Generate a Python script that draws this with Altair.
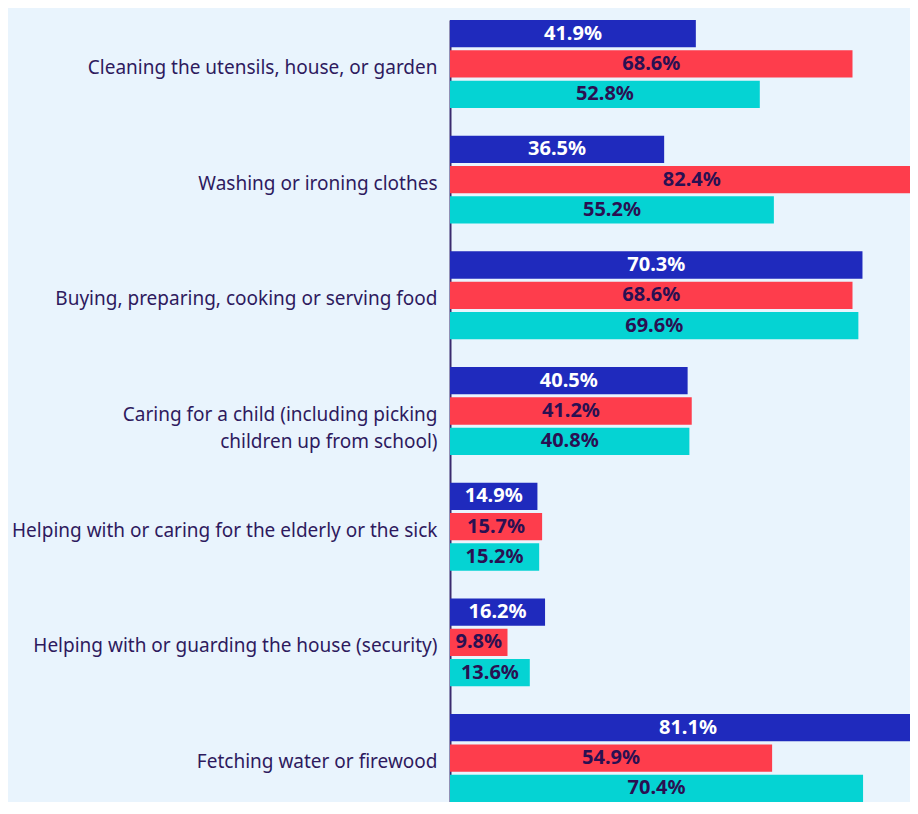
import altair as alt
import pandas as pd

categories = [
    "Cleaning the utensils, house, or garden",
    "Washing or ironing clothes",
    "Buying, preparing, cooking or serving food",
    "Caring for a child (including picking children up from school)",
    "Helping with or caring for the elderly or the sick",
    "Helping with or guarding the house (security)",
    "Fetching water or firewood",
]
series = ["Series 1", "Series 2", "Series 3"]
values_1 = [41.9, 36.5, 70.3, 40.5, 14.9, 16.2, 81.1]
values_2 = [68.6, 82.4, 68.6, 41.2, 15.7, 9.8, 54.9]
values_3 = [52.8, 55.2, 69.6, 40.8, 15.2, 13.6, 70.4]

rows = []
for s, vals in zip(series, [values_1, values_2, values_3]):
    for c, v in zip(categories, vals):
        rows.append({"category": c, "series": s, "value": v, "label": f"{v:.1f}%"})
df = pd.DataFrame(rows)

bar_colors = ["#1f2abd", "#fe3d4c", "#05d3d3"]
text_colors = ["#ffffff", "#2a1052", "#2a1052"]
bg = "#e9f4fd"
dark = "#2e1a5e"

label_expr = (
    "datum.value == 'Caring for a child (including picking children up from school)'"
    " ? ['Caring for a child (including picking', 'children up from school)'] : datum.value"
)

x_scale = alt.Scale(domain=[0, 78.4], nice=False, zero=True)

base = alt.Chart(df).encode(
    y=alt.Y(
        "category:N",
        sort=categories,
        scale=alt.Scale(range=[12, 794], paddingInner=0.24, paddingOuter=0),
        axis=alt.Axis(
            title=None,
            ticks=False,
            labelExpr=label_expr,
            labelFont="Noto Sans",
            labelFontSize=19,
            labelColor=dark,
            labelPadding=13,
            labelLineHeight=27,
            labelOffset=4,
            labelLimit=500,
            domainColor="#3b2a6e",
            domainWidth=2,
            grid=False,
        ),
    ),
    yOffset=alt.YOffset("series:N", sort=series, scale=alt.Scale(paddingInner=0.1)),
)

bars = base.mark_bar(clip=True).encode(
    x=alt.X("value:Q", scale=x_scale, axis=None),
    color=alt.Color("series:N", scale=alt.Scale(domain=series, range=bar_colors), legend=None),
)

texts = base.transform_calculate(mid="datum.value / 2").mark_text(
    font="Noto Sans", fontSize=20, fontWeight="bold", align="center", baseline="middle"
).encode(
    x=alt.X("mid:Q", scale=x_scale, axis=None),
    text="label:N",
    color=alt.Color("series:N", scale=alt.Scale(domain=series, range=text_colors), legend=None),
)

chart = (
    alt.layer(bars, texts)
    .resolve_scale(color="independent")
    .properties(
        width=460,
        height=794,
        padding={"left": 442, "top": 0, "right": 0, "bottom": 0},
        autosize=alt.AutoSizeParams(type="none"),
        background=bg,
    )
    .configure_view(stroke=None)
)

chart.save("out.html", embed_options={"renderer": "svg", "actions": False})
